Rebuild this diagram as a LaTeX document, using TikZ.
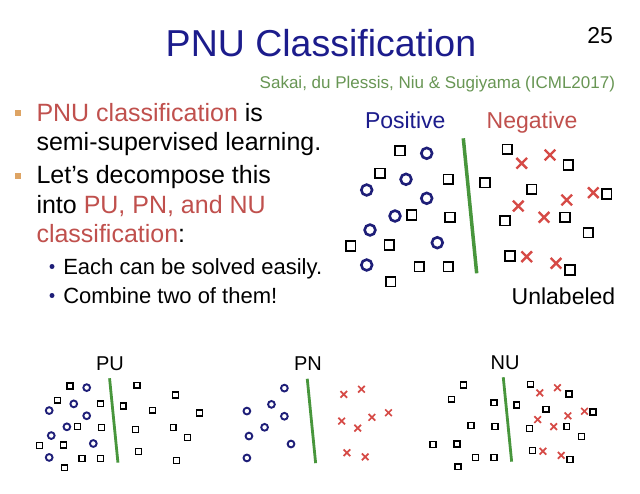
\documentclass[tikz,border=0pt]{standalone}
\usepackage{fontspec}
\setmainfont{Liberation Sans}
\definecolor{navy}{RGB}{28,28,140}
\definecolor{tred}{RGB}{192,80,77}
\definecolor{xred}{RGB}{214,74,70}
\definecolor{bull}{RGB}{222,164,100}
\definecolor{cite}{RGB}{104,150,84}
\definecolor{gline}{RGB}{72,150,60}
\definecolor{cnavy}{RGB}{30,30,120}
\newcommand\fs[1]{\fontsize{#1}{#1}\selectfont}
\newcommand\usq[2]{\draw[usqst] (#1,#2) ++(-4.75,-4.75) rectangle ++(9.5,9.5);}
\newcommand\pci[2]{\draw[pcist] (#1,#2) circle[radius=5.4];}
\newcommand\ncr[2]{\draw[ncrst] (#1,#2) ++(-5.3,-5.3) -- ++(10.6,10.6) (#1,#2) ++(-5.3,5.3) -- ++(10.6,-10.6);}
\def\Pts{426.7/153.3, 406/179.3, 366.7/190, 426.7/198.3, 395/216, 370/230, 437.3/242.7, 366.7/265}
\def\ULeft{400/150.7, 380/173.3, 448.3/179.3, 411.7/215, 450/217.3, 350.7/246, 389.3/245, 390.7/281.7, 419.3/266.7, 448.3/266.7}
\def\URight{485/182.7, 507.3/149.3, 568.3/165, 531.7/189.3, 606.7/194, 505/220.7, 565/217.3, 588.3/232.7, 510/256, 570/270}
\def\Nts{521.7/163.3, 550/155, 593.3/192.7, 518.3/206, 566.7/200, 544/217.3, 526.7/256.7, 556/263.3}
\newcommand\drawP{\foreach \a/\b in \Pts {\pci{\a}{\b}}}
\newcommand\drawN{\foreach \a/\b in \Nts {\ncr{\a}{\b}}}
\newcommand\drawU{\foreach \a/\b in \ULeft {\usq{\a}{\b}}\foreach \a/\b in \URight {\usq{\a}{\b}}}
\newcommand\drawSep{\draw[sepst] (463.3,138.3) -- (476.7,273.3);}
\begin{document}
\begin{tikzpicture}[x=1pt,y=-1pt,
  txt/.style={inner sep=0pt,outer sep=0pt,text=black},
  usqst/.style={draw=black,line width=1.8pt},
  pcist/.style={draw=cnavy,line width=2.6pt},
  ncrst/.style={draw=xred,line width=2.4pt},
  sepst/.style={draw=gline,line width=3.5pt},
  bsq/.style={fill=bull,inner sep=0pt,minimum size=6pt},
  bdot/.style={circle,fill=cnavy,inner sep=0pt,minimum size=5pt},
  small/.style={usqst/.style={draw=black,line width=1.3pt},
    pcist/.style={draw=cnavy,line width=1.9pt},
    ncrst/.style={draw=xred,line width=1.7pt},
    sepst/.style={draw=gline,line width=2.8pt}}]
\useasboundingbox[fill=white] (0,0) rectangle (640,493);
% header
\node[txt,anchor=base,text=navy] (title) at (321,56.7) {\fs{37.5}PNU Classification};
\node[txt,anchor=base east] (page) at (613,43.3) {\fs{23}25};
\node[txt,anchor=base east,text=cite] (cite) at (615,88.3) {\fs{17}Sakai, du Plessis, Niu \& Sugiyama (ICML2017)};
% bullets
\node[bsq] (b1) at (18,113) {};
\node[txt,anchor=base west] (l1) at (36.5,121) {\fs{25}\textcolor{tred}{PNU classification} is};
\node[txt,anchor=base west] (l2) at (36.5,150.5) {\fs{25}semi-supervised learning.};
\node[bsq] (b2) at (18,175.5) {};
\node[txt,anchor=base west] (l3) at (36.5,183.5) {\fs{25}Let’s decompose this};
\node[txt,anchor=base west] (l4) at (36.5,213) {\fs{25}into \textcolor{tred}{PU, PN, and NU}};
\node[txt,anchor=base west] (l5) at (36.5,242) {\fs{25}\textcolor{tred}{classification}:};
\node[bdot] (d1) at (52,266.5) {};
\node[txt,anchor=base west] (s1) at (63.3,274) {\fs{22}Each can be solved easily.};
\node[bdot] (d2) at (52,295.5) {};
\node[txt,anchor=base west] (s2) at (63.3,303) {\fs{22}Combine two of them!};
% main scatter
\node[txt,anchor=base west,text=navy] (pos) at (365,128.3) {\fs{23}Positive};
\node[txt,anchor=base west,text=tred] (neg) at (486.7,128.3) {\fs{23}Negative};
\node[txt,anchor=base west] (unl) at (511.7,304) {\fs{23}Unlabeled};
\drawSep
\drawP
\drawU
\drawN
% small panels
\node[txt,anchor=base] (pu) at (110,370) {\fs{20}PU};
\node[txt,anchor=base] (pn) at (308,370) {\fs{20}PN};
\node[txt,anchor=base] (nu) at (505,369) {\fs{20}NU};
\begin{scope}[small,shift={(-180,291.81)},scale=0.625]
  \drawSep \drawP \drawU
\end{scope}
\begin{scope}[small,shift={(17.7,292.31)},scale=0.625]
  \drawSep \drawP \drawN
\end{scope}
\begin{scope}[small,shift={(213.7,290.81)},scale=0.625]
  \drawSep \drawU \drawN
\end{scope}
\end{tikzpicture}
\end{document}
